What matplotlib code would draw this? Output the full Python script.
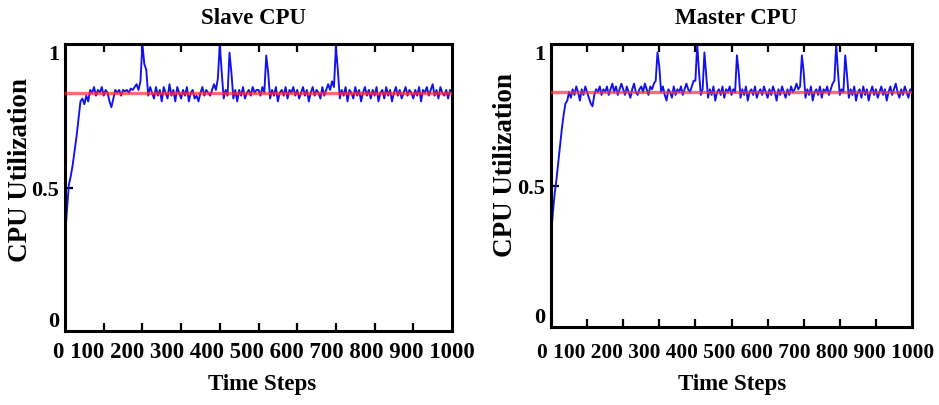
import numpy as np
import matplotlib
matplotlib.use("Agg")
import matplotlib.pyplot as plt

plt.rcParams['font.family'] = ['Liberation Serif', 'DejaVu Serif']
plt.rcParams['font.weight'] = 'bold'

# Time axis: one sample every 5 steps
steps = np.arange(0, 1001, 5)

slave_cpu = [
    0.32, 0.42, 0.51, 0.54, 0.58, 0.63, 0.68, 0.74, 0.80, 0.81, 0.79, 0.82, 0.80, 0.84, 0.83, 0.85, 0.82, 0.84, 0.83, 0.85,
    0.82, 0.84, 0.83, 0.80, 0.78, 0.81, 0.84, 0.83, 0.84, 0.82, 0.84, 0.835, 0.84, 0.83, 0.845, 0.84, 0.85, 0.86, 0.84, 0.87,
    1.00, 0.93, 0.91, 0.82, 0.85, 0.83, 0.81, 0.85, 0.82, 0.84, 0.80, 0.85, 0.83, 0.81, 0.86, 0.82, 0.84, 0.80, 0.85, 0.83,
    0.81, 0.84, 0.82, 0.85, 0.80, 0.83, 0.84, 0.81, 0.82, 0.80, 0.83, 0.85, 0.82, 0.84, 0.83, 0.82, 0.84, 0.86, 0.84, 0.88,
    1.00, 0.90, 0.81, 0.84, 0.82, 0.97, 0.90, 0.81, 0.84, 0.80, 0.84, 0.82, 0.85, 0.81, 0.83, 0.84, 0.82, 0.85, 0.83, 0.84,
    0.84, 0.82, 0.85, 0.83, 0.96, 0.90, 0.81, 0.84, 0.82, 0.85, 0.80, 0.83, 0.84, 0.82, 0.85, 0.81, 0.84, 0.83, 0.85, 0.82,
    0.84, 0.81, 0.83, 0.85, 0.82, 0.84, 0.80, 0.83, 0.85, 0.82, 0.84, 0.83, 0.81, 0.85, 0.82, 0.84, 0.86, 0.84, 0.87, 0.85,
    0.99, 0.91, 0.81, 0.84, 0.82, 0.85, 0.80, 0.84, 0.83, 0.81, 0.85, 0.82, 0.84, 0.80, 0.83, 0.85, 0.82, 0.84, 0.81, 0.84,
    0.82, 0.85, 0.80, 0.83, 0.84, 0.81, 0.85, 0.82, 0.84, 0.80, 0.83, 0.85, 0.82, 0.84, 0.81, 0.83, 0.85, 0.82, 0.84, 0.83,
    0.81, 0.84, 0.82, 0.85, 0.80, 0.84, 0.83, 0.85, 0.82, 0.84, 0.86, 0.82, 0.84, 0.81, 0.85, 0.83, 0.82, 0.84, 0.81, 0.84,
    0.83,
]

master_cpu = [
    0.32, 0.40, 0.47, 0.52, 0.58, 0.64, 0.70, 0.75, 0.79, 0.80, 0.83, 0.81, 0.84, 0.82, 0.85, 0.83, 0.80, 0.84, 0.82, 0.85,
    0.83, 0.81, 0.79, 0.78, 0.82, 0.84, 0.83, 0.85, 0.82, 0.84, 0.83, 0.85, 0.82, 0.84, 0.86, 0.83, 0.85, 0.82, 0.84, 0.86,
    0.84, 0.82, 0.85, 0.83, 0.81, 0.84, 0.86, 0.83, 0.82, 0.84, 0.85, 0.83, 0.86, 0.84, 0.82, 0.85, 0.84, 0.86, 0.87, 0.97,
    0.92, 0.83, 0.85, 0.82, 0.80, 0.84, 0.83, 0.81, 0.85, 0.82, 0.84, 0.83, 0.85, 0.82, 0.84, 0.86, 0.84, 0.83, 0.85, 0.87,
    0.87, 1.00, 0.90, 0.82, 0.84, 0.97, 0.89, 0.81, 0.84, 0.82, 0.85, 0.80, 0.83, 0.84, 0.82, 0.85, 0.81, 0.84, 0.83, 0.85,
    0.82, 0.84, 0.83, 0.96, 0.90, 0.81, 0.84, 0.82, 0.85, 0.80, 0.83, 0.84, 0.82, 0.85, 0.81, 0.83, 0.84, 0.82, 0.85, 0.83,
    0.81, 0.84, 0.82, 0.85, 0.83, 0.80, 0.84, 0.82, 0.85, 0.83, 0.81, 0.84, 0.82, 0.85, 0.83, 0.84, 0.86, 0.84, 0.85, 0.96,
    0.90, 0.81, 0.84, 0.82, 0.85, 0.80, 0.83, 0.84, 0.82, 0.85, 0.81, 0.84, 0.83, 0.85, 0.82, 0.84, 0.86, 0.87, 1.00, 0.90,
    0.82, 0.84, 0.83, 0.96, 0.89, 0.81, 0.84, 0.82, 0.85, 0.80, 0.83, 0.84, 0.81, 0.85, 0.82, 0.84, 0.80, 0.83, 0.85, 0.82,
    0.84, 0.81, 0.83, 0.85, 0.82, 0.84, 0.80, 0.83, 0.85, 0.82, 0.84, 0.86, 0.83, 0.81, 0.84, 0.82, 0.85, 0.83, 0.81, 0.84,
    0.83,
]

target_level = 0.83

titles = ["Slave CPU", "Master CPU"]
x_tick_values = [0, 100, 200, 300, 400, 500, 600, 700, 800, 900, 1000]
x_tick_labels = ["0", "100", "200", "300", "400", "500", "600", "700", "800", "900", "1000"]
y_tick_values = [0, 0.5, 1]
y_tick_labels = ["0", "0.5", "1"]
x_label = "Time Steps"
y_label = "CPU Utilization"

W, H = 939, 406
fig = plt.figure(figsize=(W / 100, H / 100), dpi=100)

# axes boxes in pixels: left, top, right, bottom
boxes = [(65, 45, 452, 332), (551, 45, 912, 328)]
tick_row_x = [264, 736]
tick_row_size = [16.5, 15.4]
xlabel_x = [262, 732]
ylabel_pos = [(21, 170), (505, 165)]
title_x = [254, 736]

for i, (series, title) in enumerate(zip([slave_cpu, master_cpu], titles)):
    l, t, r, b = boxes[i]
    ax = fig.add_axes([l / W, 1 - b / H, (r - l) / W, (b - t) / H])
    ax.plot(steps, series, color='#1010f0', lw=1.35, zorder=2)
    ax.axhline(target_level, color='#ff3030', lw=2.4, alpha=0.7, zorder=3)
    ax.set_xlim(0, 1000)
    ax.set_ylim(0, 1)

    for s in ax.spines.values():
        s.set_linewidth(2.2)
        s.set_color('black')

    ax.set_xticks(x_tick_values[1:-1])
    ax.tick_params(axis='x', direction='in', length=6, width=1.6, top=True,
                   bottom=True, labelbottom=False)
    ax.set_yticks(y_tick_values)
    ax.set_yticklabels(y_tick_labels, fontsize=16, fontweight='bold')
    ax.tick_params(axis='y', direction='in', length=6, width=1.6, left=True,
                   right=False, pad=4)
    for lab, val in zip(ax.get_yticklabels(), y_tick_values):
        lab.set_va('bottom' if val == 0 else ('center_baseline' if val == 0.5 else 'top'))

    # hide the tick marks that fall on the frame
    for tk, val in zip(ax.yaxis.get_major_ticks(), y_tick_values):
        if val != 0.5:
            tk.tick1line.set_visible(False)

    fig.text(tick_row_x[i] / W, 1 - 353 / H, " ".join(x_tick_labels),
             ha='center', va='center', fontsize=tick_row_size[i], fontweight='bold')
    fig.text(xlabel_x[i] / W, 1 - 385 / H, x_label,
             ha='center', va='center', fontsize=16.5, fontweight='bold')
    fig.text(ylabel_pos[i][0] / W, 1 - ylabel_pos[i][1] / H, y_label,
             ha='center', va='center', rotation=90, fontsize=19.5, fontweight='bold')
    fig.text(title_x[i] / W, 1 - 18 / H, title,
             ha='center', va='center', fontsize=16.5, fontweight='bold')

fig.savefig("out.png", dpi=100)
